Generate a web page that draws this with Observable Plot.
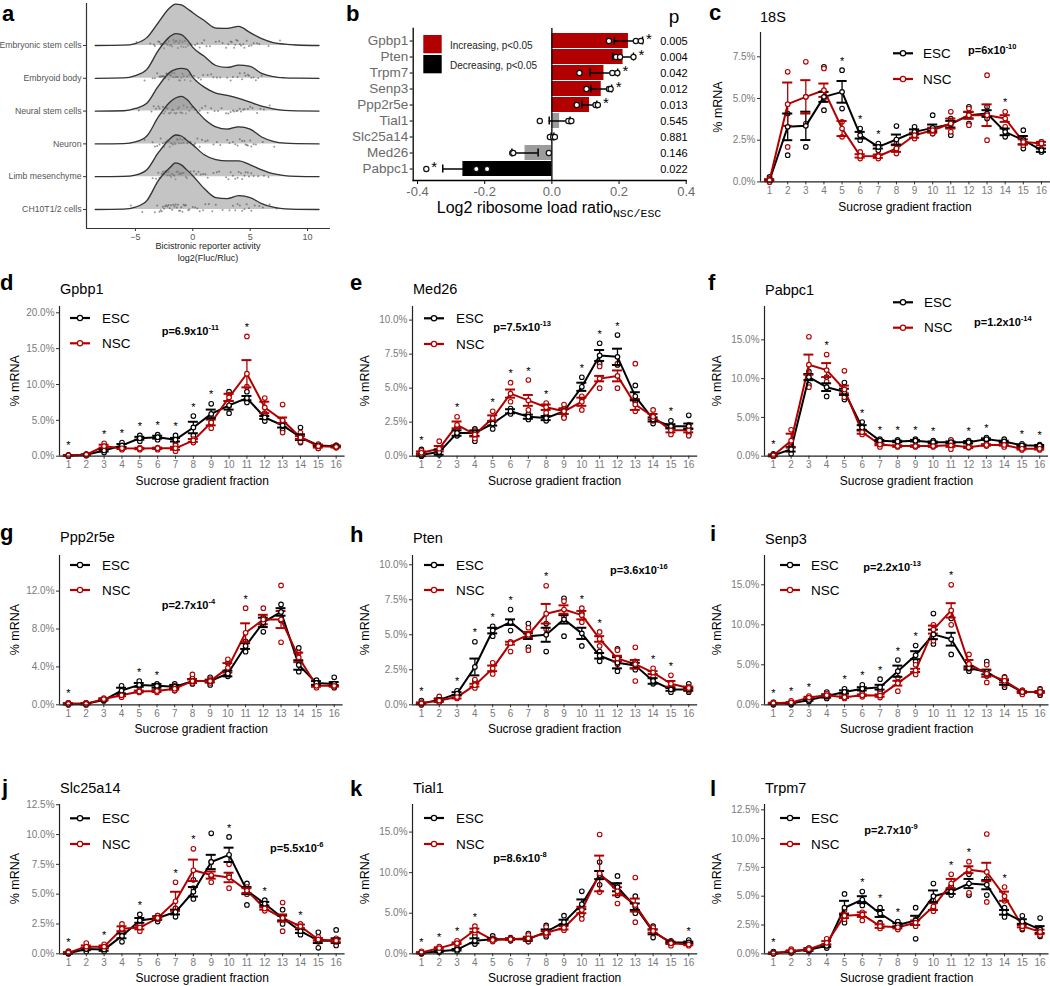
<!DOCTYPE html>
<html><head><meta charset="utf-8">
<script src="https://cdn.jsdelivr.net/npm/d3@7"></script>
<script src="https://cdn.jsdelivr.net/npm/@observablehq/plot@0.6"></script>
<style>
body{margin:0;background:#fff;}
#fig{position:relative;width:1050px;height:986px;overflow:hidden;background:#fff;font-family:"Liberation Sans",Arial,Helvetica,sans-serif;}
</style></head><body><div id="fig"></div>
<script>
// ---------------- DATA ----------------
// Panel a: ridgeline densities of log2(Fluc/Rluc)
const cellNames = ["Embryonic stem cells","Embryoid body","Neural stem cells","Neuron","Limb mesenchyme","CH10T1/2 cells"];
const densX = [-8.5,-6,-5,-4,-3,-2,-1.5,-1,-0.5,0,1,2,3,4,5,6,7,8,9,11];
const dens_ESC    = [0,0.001,0.006,0.024,0.070,0.115,0.126,0.124,0.113,0.100,0.076,0.053,0.052,0.058,0.039,0.021,0.009,0.004,0.0015,0];
const dens_EB     = [0,0.001,0.008,0.027,0.085,0.127,0.136,0.133,0.118,0.094,0.067,0.039,0.033,0.040,0.036,0.015,0.005,0.0015,0.0005,0];
const dens_NSC    = [0,0.001,0.008,0.024,0.076,0.118,0.127,0.130,0.127,0.103,0.073,0.055,0.048,0.039,0.027,0.015,0.007,0.002,0.0005,0];
const dens_Neuron = [0,0.001,0.006,0.024,0.082,0.127,0.140,0.145,0.135,0.115,0.076,0.052,0.045,0.052,0.045,0.021,0.008,0.002,0.0005,0];
const dens_Limb   = [0,0.001,0.005,0.021,0.073,0.115,0.127,0.124,0.110,0.097,0.067,0.052,0.048,0.048,0.036,0.021,0.009,0.003,0.001,0];
const dens_CH10   = [0,0.001,0.007,0.027,0.088,0.127,0.142,0.136,0.120,0.103,0.064,0.036,0.033,0.042,0.036,0.018,0.007,0.002,0.0005,0];
const pts_ESC    = [-4.9,-3.7,-3.4,-3.3,-3.0,-2.9,-2.8,-2.7,-2.6,-2.5,-2.4,-2.3,-2.2,-2.1,-2.0,-1.9,-1.8,-1.7,-1.6,-1.5,-1.4,-1.3,-1.2,-1.1,-1.0,-0.9,-0.8,-0.7,-0.6,-0.4,-0.2,-0.1,0.2,0.4,0.6,0.8,1.0,1.2,1.5,2.0,2.3,2.6,2.9,3.1,3.3,3.4,3.6,3.7,3.8,3.9,4.1,4.2,4.4,4.5,4.7,4.9,5.1,5.3,5.6,5.8,6.6,7.6];
const pts_EB     = [-4.2,-3.5,-3.3,-3.1,-2.9,-2.8,-2.7,-2.6,-2.5,-2.4,-2.3,-2.2,-2.1,-2.0,-1.9,-1.8,-1.7,-1.6,-1.5,-1.4,-1.3,-1.2,-1.1,-1.0,-0.9,-0.8,-0.7,-0.5,-0.3,-0.2,0.1,0.3,0.5,0.7,0.9,1.3,1.6,1.8,2.1,2.4,3.0,3.3,3.5,3.9,4.1,4.3,4.5,4.6,4.8,4.9,5.1,5.3,5.5,5.7,6.0];
const pts_NSC    = [-4.7,-3.6,-3.4,-3.2,-3.0,-2.9,-2.7,-2.6,-2.5,-2.4,-2.3,-2.2,-2.1,-2.0,-1.9,-1.8,-1.7,-1.6,-1.5,-1.4,-1.3,-1.2,-1.1,-1.0,-0.9,-0.8,-0.6,-0.5,-0.3,-0.1,0.0,0.2,0.4,0.6,0.8,1.1,1.3,1.6,1.9,2.2,2.5,2.9,3.1,3.3,3.5,3.6,3.8,3.9,4.1,4.2,4.4,4.5,4.8,5.0,5.2,5.6,5.9,6.2,6.7];
const pts_Neuron = [-4.2,-3.5,-3.3,-3.1,-2.9,-2.8,-2.6,-2.5,-2.4,-2.3,-2.2,-2.1,-2.0,-1.9,-1.8,-1.7,-1.6,-1.5,-1.4,-1.3,-1.2,-1.1,-1.0,-0.9,-0.8,-0.7,-0.5,-0.4,-0.2,0.1,0.2,0.4,0.6,0.8,1.1,1.3,1.8,2.1,2.4,3.0,3.2,3.5,3.7,3.9,4.1,4.3,4.5,4.6,4.7,4.8,5.0,5.1,5.3,5.5,6.1,7.1];
const pts_Limb   = [-3.5,-3.2,-3.0,-2.9,-2.8,-2.7,-2.6,-2.5,-2.4,-2.3,-2.2,-2.1,-2.0,-1.9,-1.8,-1.7,-1.6,-1.5,-1.4,-1.3,-1.2,-1.1,-1.0,-0.9,-0.8,-0.6,-0.5,-0.2,0.1,0.3,0.5,0.7,0.9,1.1,1.3,1.8,2.1,2.3,2.9,3.1,3.3,3.5,3.7,3.9,4.0,4.2,4.3,4.5,4.6,4.8,4.9,5.1,5.3,5.7,6.2,6.6];
const pts_CH10   = [-5.4,-4.4,-3.3,-3.1,-2.9,-2.8,-2.7,-2.6,-2.5,-2.4,-2.3,-2.2,-2.1,-2.0,-1.9,-1.8,-1.7,-1.6,-1.5,-1.4,-1.3,-1.2,-1.1,-1.0,-0.9,-0.8,-0.7,-0.6,-0.4,-0.3,0.0,0.2,0.4,0.6,0.9,1.1,1.4,1.7,2.0,2.6,3.2,3.5,3.7,3.9,4.1,4.3,4.5,4.7,4.9,5.1,5.4,5.8,6.1,6.7,7.3];
const aTicks = [-5,0,5,10];

// Panel b: log2 ribosome load ratio NSC/ESC
const bGenes = ["Gpbp1","Pten","Trpm7","Senp3","Ppp2r5e","Tial1","Slc25a14","Med26","Pabpc1"];
const bMean  = [0.228,0.212,0.155,0.147,0.112,0.023,0.002,-0.080,-0.265];
const bSE    = [0.042,0.031,0.041,0.031,0.022,0.031,0.004,0.039,0.060];
const bReps  = [[0.170,0.250,0.265],[0.191,0.203,0.243],[0.082,0.180,0.195],[0.103,0.170,0.175],[0.074,0.130,0.137],[-0.036,0.049,0.058],[-0.006,0.004,0.009],[-0.118,-0.115,-0.009],[-0.374,-0.225,-0.193]];
const bP     = ["0.005","0.004","0.042","0.012","0.013","0.545","0.881","0.146","0.022"];
const bClass = ["inc","inc","inc","inc","inc","ns","ns","ns","dec"];
const bSig   = [true,true,true,true,true,false,false,false,true];
const bTicks = [-0.4,-0.2,0.0,0.2,0.4];

// Panels c-l: % mRNA per sucrose gradient fraction
const fractions = [1,2,3,4,5,6,7,8,9,10,11,12,13,14,15,16];

const s18_escMean = [0.1,3.3,3.36,5.1,5.4,2.8,2.1,2.54,3.0,3.24,3.46,4.0,4.1,3.0,2.5,1.9];
const s18_nscMean = [0.1,4.66,5.1,5.5,3.2,1.56,1.54,2.0,2.8,3.1,3.5,4.0,4.0,3.8,2.4,2.3];
const s18_escSE   = [0.05,0.8,0.85,0.3,0.65,0.2,0.1,0.3,0.15,0.2,0.2,0.2,0.2,0.2,0.25,0.1];
const s18_nscSE   = [0.05,1.3,1.0,0.4,0.45,0.1,0.1,0.2,0.15,0.15,0.3,0.2,0.65,0.2,0.15,0.1];
const s18_escLo   = [0.0,1.6,2.1,4.3,4.4,2.5,1.9,2.0,2.7,2.9,2.8,3.5,3.8,2.7,2.0,1.8];
const s18_escHi   = [0.3,4.1,5.1,6.9,6.7,3.2,2.3,3.35,3.3,4.0,3.8,4.5,4.5,3.2,3.1,2.4];
const s18_nscLo   = [0.0,2.1,3.5,5.0,2.7,1.4,1.4,1.7,2.6,2.9,3.0,3.4,2.5,3.3,2.2,2.0];
const s18_nscHi   = [0.2,6.6,7.2,6.8,3.6,1.8,1.6,2.3,3.0,3.2,4.2,4.4,6.4,4.2,2.6,2.4];
const s18_stars   = [5,6,7,14];

const gpbp1_escMean = [0.1,0.2,0.8,1.5,2.5,2.65,2.3,4.0,5.9,7.1,8.1,5.4,4.3,2.65,1.5,1.4];
const gpbp1_nscMean = [0.1,0.2,1.4,1.1,1.07,1.1,1.1,2.2,4.7,8.2,11.5,6.8,5.0,2.6,1.4,1.3];
const gpbp1_escSE   = [0.05,0.05,0.15,0.2,0.2,0.2,0.25,0.8,0.6,0.6,0.3,0.2,0.3,0.4,0.1,0.1];
const gpbp1_nscSE   = [0.05,0.05,0.2,0.1,0.1,0.1,0.2,0.2,0.4,0.5,1.9,0.8,0.4,0.2,0.2,0.1];
const gpbp1_escLo   = [0,0.1,0.5,1.0,2.1,2.3,1.7,2.9,4.7,6.0,7.5,4.9,3.6,1.9,1.1,1.2];
const gpbp1_escHi   = [0.2,0.3,1.2,1.9,2.9,3.0,2.9,5.6,7.3,9.0,9.0,5.9,4.9,4.0,1.6,1.5];
const gpbp1_nscLo   = [0,0.1,1.0,0.9,0.9,0.9,0.7,1.9,3.9,7.0,9.7,6.0,3.3,2.0,1.1,1.2];
const gpbp1_nscHi   = [0.1,0.3,1.8,1.2,1.2,1.2,1.5,2.4,5.4,8.6,16.7,8.1,7.2,3.3,1.7,1.5];
const gpbp1_stars   = [1,3,4,5,6,7,8,9,11];

const med26_escMean = [0.1,0.3,1.7,1.7,2.4,3.3,2.9,2.8,3.3,5.1,7.4,7.3,4.4,2.7,2.2,2.2];
const med26_nscMean = [0.25,0.55,2.3,1.6,2.8,4.6,4.1,3.6,3.3,4.0,5.7,5.9,3.8,2.9,1.9,1.9];
const med26_escSE   = [0.1,0.2,0.2,0.2,0.15,0.15,0.15,0.15,0.2,0.3,0.4,0.6,0.3,0.15,0.15,0.2];
const med26_nscSE   = [0.1,0.2,0.25,0.15,0.2,0.3,0.4,0.2,0.2,0.3,0.2,0.4,0.4,0.2,0.15,0.15];
const med26_escLo   = [0,0.1,1.5,1.1,2.0,3.1,2.7,2.6,2.9,4.3,6.8,6.7,4.0,2.4,2.0,1.6];
const med26_escHi   = [0.5,0.4,2.1,2.0,2.7,3.5,3.1,3.0,3.5,5.8,8.3,8.9,5.2,3.0,2.6,3.0];
const med26_nscLo   = [0.1,0.3,1.9,1.3,2.5,4.0,3.4,3.2,2.8,3.4,5.0,5.0,3.3,2.6,1.6,1.5];
const med26_nscHi   = [0.4,1.1,2.9,1.9,3.3,5.4,5.6,3.9,3.8,4.4,6.6,6.8,6.8,3.4,2.1,2.3];
const med26_stars   = [1,3,5,6,7,8,10,11,12,15];

const pabpc1_escMean = [0.1,0.9,10.2,8.9,8.3,3.7,2.0,1.9,2.0,1.8,1.8,1.8,2.2,1.9,1.4,1.35];
const pabpc1_nscMean = [0.1,2.0,11.8,11.1,8.6,3.1,1.5,1.3,1.3,1.3,1.4,1.15,1.45,1.45,0.95,0.95];
const pabpc1_escSE   = [0.1,0.3,0.4,0.5,0.4,0.3,0.1,0.1,0.1,0.1,0.1,0.15,0.1,0.1,0.1,0.1];
const pabpc1_nscSE   = [0.1,0.9,1.3,0.9,0.5,0.2,0.1,0.1,0.1,0.1,0.2,0.1,0.1,0.1,0.1,0.1];
const pabpc1_escLo   = [0,0.3,9.2,7.7,7.3,3.4,1.8,1.7,1.9,1.6,1.6,1.6,2.0,1.7,1.2,1.2];
const pabpc1_escHi   = [0.3,1.5,10.9,10.2,9.5,4.4,2.2,2.1,2.2,2.0,2.0,2.0,2.4,2.2,1.6,1.5];
const pabpc1_nscLo   = [0,1.2,8.9,9.6,7.6,2.8,1.2,1.2,1.2,1.2,0.9,1.1,1.3,1.2,0.8,0.8];
const pabpc1_nscHi   = [0.2,3.4,15.4,13.1,11.0,3.5,1.7,1.4,1.4,1.4,2.1,1.3,1.6,1.6,1.1,1.1];
const pabpc1_stars   = [1,4,6,7,8,9,10,12,13,15,16];

const ppp2r5e_escMean = [0.1,0.1,0.5,1.5,2.1,2.0,1.9,2.5,2.5,3.3,6.2,8.7,9.8,4.2,2.3,2.2];
const ppp2r5e_nscMean = [0.1,0.1,0.6,1.0,1.4,1.45,1.7,2.5,2.5,3.9,7.6,9.0,9.0,5.0,2.0,2.0];
const ppp2r5e_escSE   = [0.05,0.05,0.05,0.3,0.2,0.2,0.2,0.2,0.15,0.3,0.3,0.5,0.4,0.5,0.2,0.2];
const ppp2r5e_nscSE   = [0.05,0.05,0.1,0.1,0.1,0.1,0.1,0.2,0.1,0.5,1.0,0.5,0.9,0.5,0.1,0.1];
const ppp2r5e_escLo   = [0,0,0.4,1.0,1.9,1.8,1.5,2.2,2.1,3.0,5.6,7.7,8.9,3.5,2.1,1.8];
const ppp2r5e_escHi   = [0.2,0.2,0.6,2.0,2.5,2.2,2.2,2.8,2.9,4.4,6.7,9.2,10.6,6.0,2.6,2.9];
const ppp2r5e_nscLo   = [0,0,0.5,0.8,1.3,1.3,1.5,2.3,2.3,3.5,6.5,8.5,6.6,4.5,1.8,1.9];
const ppp2r5e_nscHi   = [0.2,0.2,0.7,1.2,1.5,1.6,2.0,3.2,2.7,4.8,10.2,10.2,12.6,5.5,2.2,2.2];
const ppp2r5e_stars   = [1,5,6,11];

const pten_escMean = [0.1,0.35,0.8,2.7,5.3,5.9,4.9,5.0,6.1,5.1,3.5,3.0,2.8,1.7,1.1,1.1];
const pten_nscMean = [0.1,0.3,0.55,1.4,2.6,4.4,5.0,6.5,6.8,6.4,4.7,3.3,2.9,2.3,1.5,1.2];
const pten_escSE   = [0.05,0.1,0.1,0.6,0.2,0.2,0.2,0.5,0.3,0.4,0.2,0.4,0.2,0.2,0.1,0.1];
const pten_nscSE   = [0.05,0.1,0.1,0.1,0.2,0.1,0.2,0.7,0.3,0.3,0.2,0.2,0.3,0.1,0.2,0.1];
const pten_escLo   = [0,0.2,0.6,1.7,4.9,5.3,4.1,3.8,4.9,4.2,3.1,2.4,2.5,1.5,0.9,0.9];
const pten_escHi   = [0.3,0.5,1.0,4.5,5.6,6.8,5.8,5.8,7.6,6.5,3.8,4.0,3.1,1.9,1.3,1.5];
const pten_nscLo   = [0,0.2,0.45,1.2,2.2,3.8,3.9,5.4,6.3,5.9,4.2,2.9,1.7,2.0,1.1,1.0];
const pten_nscHi   = [0.2,0.6,0.7,1.8,3.0,4.5,5.5,8.5,7.4,6.9,5.2,3.9,4.1,2.6,2.1,1.3];
const pten_stars   = [1,3,4,5,6,8,10,11,14,15];

const senp3_escMean = [0.15,0.15,0.6,1.1,1.6,2.0,2.2,4.2,6.2,8.8,8.2,4.6,4.1,2.8,1.6,1.6];
const senp3_nscMean = [0.2,0.3,0.9,1.2,0.95,1.2,1.15,2.7,4.3,9.4,11.8,5.1,3.9,3.0,1.6,1.6];
const senp3_escSE   = [0.05,0.05,0.1,0.2,0.2,0.2,0.3,0.7,0.5,0.6,0.8,0.2,0.3,0.3,0.1,0.1];
const senp3_nscSE   = [0.05,0.05,0.1,0.1,0.1,0.1,0.15,0.3,0.2,0.5,0.9,0.5,0.4,0.2,0.1,0.1];
const senp3_escLo   = [0,0,0.4,0.8,1.3,1.7,1.7,2.8,5.4,7.6,6.3,4.2,3.6,2.2,1.4,1.2];
const senp3_escHi   = [0.3,0.3,0.9,1.6,2.0,2.5,3.2,5.6,7.4,11.4,10.8,5.0,5.4,3.5,1.8,2.0];
const senp3_nscLo   = [0.1,0.2,0.8,1.0,0.8,1.0,0.9,1.7,3.8,8.0,10.0,4.5,2.8,2.5,1.3,1.4];
const senp3_nscHi   = [0.3,0.5,1.1,1.4,1.1,1.4,1.4,3.4,5.0,10.0,15.0,6.3,5.0,3.4,1.8,1.9];
const senp3_stars   = [1,2,3,5,6,7,8,9,11];

const slc25a14_escMean = [0.05,0.4,0.35,1.5,2.8,3.0,3.5,5.2,7.7,8.3,5.3,4.2,3.0,1.9,1.1,1.1];
const slc25a14_nscMean = [0.1,0.6,0.6,2.1,2.2,3.0,4.4,7.0,6.6,6.4,5.3,3.8,3.0,2.3,1.2,1.1];
const slc25a14_escSE   = [0.05,0.1,0.1,0.2,0.2,0.15,0.2,0.4,0.6,0.6,0.3,0.15,0.2,0.15,0.2,0.2];
const slc25a14_nscSE   = [0.05,0.1,0.1,0.2,0.15,0.1,0.8,0.9,0.3,0.4,0.2,0.1,0.3,0.15,0.1,0.1];
const slc25a14_escLo   = [0,0.2,0.2,1.0,2.3,2.7,3.1,4.6,6.5,6.6,4.1,4.0,2.5,1.6,0.5,0.7];
const slc25a14_escHi   = [0.2,0.6,0.6,2.1,3.3,3.2,3.8,6.2,10.1,9.8,5.9,4.5,3.7,2.2,1.8,2.0];
const slc25a14_nscLo   = [0,0.4,0.4,1.8,1.9,2.9,3.8,5.5,6.0,5.5,5.0,3.6,1.9,2.1,1.0,1.0];
const slc25a14_nscHi   = [0.2,0.9,0.8,2.5,2.5,3.2,6.0,8.8,7.7,7.5,5.6,4.0,4.3,2.5,1.4,1.3];
const slc25a14_stars   = [1,3,5,7,8,10,12,14];

const tial1_escMean = [0.1,0.3,0.5,1.6,1.8,1.8,1.8,2.7,3.9,6.1,9.7,8.2,5.8,2.7,1.4,1.4];
const tial1_nscMean = [0.15,0.7,1.3,2.9,1.7,1.8,1.9,2.6,3.2,5.4,9.9,7.7,6.0,2.8,1.3,1.15];
const tial1_escSE   = [0.05,0.1,0.1,0.3,0.1,0.1,0.2,0.3,0.3,0.6,0.5,0.5,0.4,0.3,0.1,0.1];
const tial1_nscSE   = [0.05,0.1,0.1,0.2,0.1,0.1,0.2,0.2,0.2,0.4,2.2,0.5,0.8,0.2,0.1,0.1];
const tial1_escLo   = [0,0.2,0.3,1.2,1.6,1.6,1.5,2.1,3.3,4.8,8.5,7.2,5.0,2.0,1.3,1.2];
const tial1_escHi   = [0.2,0.5,0.7,2.2,2.2,2.0,2.5,3.5,4.7,7.7,11.3,9.6,7.1,3.4,1.6,1.7];
const tial1_nscLo   = [0,0.5,1.1,2.6,1.5,1.7,1.5,2.3,2.9,4.3,7.6,6.2,3.9,2.5,1.0,1.0];
const tial1_nscHi   = [0.3,0.9,1.6,3.4,1.9,1.9,2.3,3.3,3.6,6.1,14.7,8.5,9.4,3.2,1.5,1.3];
const tial1_stars   = [1,2,3,4,16];

const trpm7_escMean = [0.05,0.2,0.35,0.7,4.0,4.7,3.5,2.5,2.9,5.0,5.4,6.1,6.0,3.6,2.8,2.1];
const trpm7_nscMean = [0.05,0.25,0.4,0.95,3.3,3.4,2.4,2.3,2.7,4.1,6.1,7.3,7.1,5.0,2.4,1.9];
const trpm7_escSE   = [0.05,0.05,0.1,0.1,0.6,0.3,0.3,0.15,0.4,0.5,0.2,0.4,0.4,0.2,0.2,0.3];
const trpm7_nscSE   = [0.05,0.05,0.1,0.15,0.2,0.2,0.15,0.1,0.2,0.3,0.4,0.3,0.8,0.4,0.1,0.2];
const trpm7_escLo   = [0,0.1,0.2,0.5,2.7,4.2,2.7,2.2,1.3,3.9,5.1,5.1,5.1,3.2,2.1,1.5];
const trpm7_escHi   = [0.2,0.3,0.5,1.0,5.2,5.4,4.0,2.8,4.0,6.1,5.9,6.9,6.5,4.0,3.3,3.1];
const trpm7_nscLo   = [0,0.1,0.3,0.7,3.0,2.9,2.2,2.1,2.4,3.7,5.6,5.3,4.5,4.6,2.2,1.6];
const trpm7_nscHi   = [0.1,0.4,0.5,1.3,3.8,3.6,2.6,2.5,3.0,4.6,6.9,8.0,10.4,5.8,2.7,2.2];
const trpm7_stars   = [1,6,7,8,11,12,14];

// ---------------- STYLE / LAYOUT ----------------
const RED = "#b20000";
const FONT = "'Liberation Sans', Arial, Helvetica, sans-serif";
const TICKGRAY = "#7a7a7a";
const fig = document.getElementById("fig");

function put(el, x, y) {
  el.style.position = "absolute";
  el.style.left = x + "px";
  el.style.top = y + "px";
  fig.appendChild(el);
}
// deterministic vertical jitter offset (display only) in [-0.5, 0.5]
function jit(j, i) {
  const s = Math.sin((j + 1) * 12.9898 + (i + 1) * 78.233) * 43758.5453;
  return (s - Math.floor(s)) - 0.5;
}

// ---------------- PANEL a ----------------
(function () {
  const dens = [dens_ESC, dens_EB, dens_NSC, dens_Neuron, dens_Limb, dens_CH10];
  const pts = [pts_ESC, pts_EB, pts_NSC, pts_Neuron, pts_Limb, pts_CH10];
  const xDom = [-9.26, 12];
  const yDom = [-0.058, 0.628];
  const marks = [];
  dens.forEach((arr, i) => {
    const base = (5 - i) * 0.1;
    const data = densX.map((x, j) => ({x, d: arr[j]}));
    marks.push(Plot.areaY(data, {x: "x", y1: () => base, y2: d => base + d.d, fill: "#8a8a8a", fillOpacity: 0.5, curve: "monotone-x"}));
    marks.push(Plot.lineY(data, {x: "x", y: d => base + d.d, stroke: "#333", strokeWidth: 1.3, curve: "monotone-x"}));
    const pd = pts[i].map((v, j) => ({v, j}));
    marks.push(Plot.dot(pd, {x: "v", y: d => base + 0.004 + jit(d.j, i) * 0.026, r: 1.0, fill: "#444", fillOpacity: 0.55}));
  });
  const svg = Plot.plot({
    width: 335, height: 245,
    marginLeft: 86, marginRight: 5, marginTop: 3, marginBottom: 17,
    x: {domain: xDom}, y: {domain: yDom},
    style: {fontFamily: FONT, background: "transparent", overflow: "visible"},
    marks: [
      ...marks,
      Plot.ruleX([xDom[0]], {stroke: "#333", strokeWidth: 1.2}),
      Plot.ruleY([yDom[0]], {stroke: "#333", strokeWidth: 1.2}),
      Plot.axisX({ticks: aTicks, tickSize: 3, tickPadding: 2, fontSize: 9, fill: "#555", stroke: "#333", label: null}),
      Plot.axisY({ticks: [0.5,0.4,0.3,0.2,0.1,0], tickSize: 3, tickPadding: 2, fontSize: 8.7, fill: "#555", stroke: "#333", label: null,
        tickFormat: v => cellNames[Math.round(5 - v * 10)]})
    ]
  });
  put(svg, 0, 0);
})();

// ---------------- PANEL b ----------------
(function () {
  const colorOf = {inc: RED, ns: "#9c9c9c", dec: "#000"};
  const data = bGenes.map((g, i) => ({g, m: bMean[i], se: bSE[i], cls: bClass[i], p: bP[i], sig: bSig[i],
    ext: bMean[i] >= 0 ? d3.max(bReps[i]) : d3.min(bReps[i])}));
  const reps = bGenes.flatMap((g, i) => bReps[i].map(v => ({g, v})));
  const svg = Plot.plot({
    width: 360, height: 200,
    marginLeft: 72.7, marginRight: 14.3, marginTop: 28, marginBottom: 20,
    x: {domain: [-0.413, 0.4]},
    y: {domain: bGenes, paddingInner: 0.08, paddingOuter: 0.2},
    style: {fontFamily: FONT, background: "transparent", overflow: "visible"},
    marks: [
      Plot.barX(data, {x: "m", y: "g", fill: d => colorOf[d.cls]}),
      Plot.ruleX([0], {stroke: "#000", strokeWidth: 1.3}),
      Plot.ruleY(data, {y: "g", x1: d => d.m - d.se, x2: d => d.m + d.se, stroke: "#000", strokeWidth: 1.5}),
      Plot.tickX(data, {x: d => d.m - d.se, y: "g", insetTop: 3.5, insetBottom: 3.5, stroke: "#000", strokeWidth: 1.5}),
      Plot.tickX(data, {x: d => d.m + d.se, y: "g", insetTop: 3.5, insetBottom: 3.5, stroke: "#000", strokeWidth: 1.5}),
      Plot.dot(reps, {x: "v", y: "g", r: 2.6, fill: "white", stroke: "#111", strokeWidth: 1.2}),
      Plot.text(data.filter(d => d.sig), {x: "ext", y: "g", text: () => "*", dx: 8, dy: -2, fontSize: 15, fill: "#000"}),
      Plot.text(data, {y: "g", text: "p", frameAnchor: "right", textAnchor: "end", dx: 1.5, fontSize: 11, fill: "#000"}),
      Plot.frame({anchor: "left", stroke: "#000", strokeWidth: 1.3}),
      Plot.frame({anchor: "bottom", stroke: "#000", strokeWidth: 1.3}),
      Plot.axisX({ticks: bTicks, tickSize: 4, tickPadding: 2, fontSize: 13, fill: "#6a6a6a", stroke: "#000", label: null, tickFormat: v => v.toFixed(1)}),
      Plot.axisY({tickSize: 3, tickPadding: 2, fontSize: 13.5, fill: "#6a6a6a", stroke: "#000", label: null})
    ]
  });
  put(svg, 340, 0);
})();

// ---------------- PANELS c-l ----------------
function linePanel(cfg) {
  const rows = [];
  [["ESC", cfg.escMean, cfg.escSE, cfg.escLo, cfg.escHi], ["NSC", cfg.nscMean, cfg.nscSE, cfg.nscLo, cfg.nscHi]]
    .forEach(([g, m, se, lo, hi]) => fractions.forEach((f, i) => rows.push({f, g, m: m[i], se: se[i], lo: lo[i], hi: hi[i]})));
  const reps = rows.flatMap(r => [{f: r.f, g: r.g, v: r.lo}, {f: r.f, g: r.g, v: r.hi}]);
  const stars = cfg.stars.map(f => {
    const i = f - 1;
    const top = Math.max(cfg.escHi[i], cfg.nscHi[i], cfg.escMean[i] + cfg.escSE[i], cfg.nscMean[i] + cfg.nscSE[i]);
    return {f, v: top + cfg.ytop * 0.06};
  });
  const xDom = [0.5, 16.5];
  const X0 = cfg.yAxisX - 50, Y0 = cfg.axisTop - 6;
  const mr = 6, mb = 20;
  const svg = Plot.plot({
    width: cfg.right - X0 + mr, height: cfg.xAxisY - Y0 + mb,
    marginLeft: cfg.yAxisX - X0, marginRight: mr, marginTop: cfg.axisTop - Y0, marginBottom: mb,
    x: {domain: xDom}, y: {domain: [0, cfg.ytop]},
    color: {domain: ["ESC", "NSC"], range: ["#000", RED]},
    style: {fontFamily: FONT, background: "transparent", overflow: "visible"},
    marks: [
      Plot.axisX({ticks: fractions, tickSize: 3, tickPadding: 2, fontSize: 10, fill: TICKGRAY, stroke: "#333", label: null, tickFormat: d => String(d)}),
      Plot.axisY({ticks: cfg.yticks, tickSize: 3, tickPadding: 2, fontSize: 10, fill: TICKGRAY, stroke: "#333", label: null, tickFormat: v => v.toFixed(1) + "%"}),
      Plot.dot(reps, {x: "f", y: "v", stroke: "g", fill: "white", r: 2.3, strokeWidth: 1.1}),
      Plot.line(rows, {x: "f", y: "m", stroke: "g", z: "g", strokeWidth: 2}),
      Plot.ruleX(rows, {x: "f", y1: d => d.m - d.se, y2: d => d.m + d.se, stroke: "g", strokeWidth: 1.3}),
      Plot.ruleY(rows, {y: d => d.m + d.se, x1: d => d.f - 0.28, x2: d => d.f + 0.28, stroke: "g", strokeWidth: 2}),
      Plot.ruleY(rows, {y: d => d.m - d.se, x1: d => d.f - 0.28, x2: d => d.f + 0.28, stroke: "g", strokeWidth: 2}),
      Plot.dot(rows, {x: "f", y: "m", stroke: "g", fill: "white", r: 2.3, strokeWidth: 1.2}),
      Plot.text(stars, {x: "f", y: "v", text: () => "*", fontSize: 11, fill: "#000"}),
      Plot.ruleX([xDom[0]], {stroke: "#222", strokeWidth: 1.2}),
      Plot.ruleY([0], {stroke: "#222", strokeWidth: 1.2})
    ]
  });
  put(svg, X0, Y0);
}

const panels = [
  {letter: "c", title: "18S", escMean: s18_escMean, nscMean: s18_nscMean, escSE: s18_escSE, nscSE: s18_nscSE, escLo: s18_escLo, escHi: s18_escHi, nscLo: s18_nscLo, nscHi: s18_nscHi, stars: s18_stars,
   yAxisX: 760, right: 1050, axisTop: 32.3, xAxisY: 181.7, ytop: 8.96, yticks: [0,2.5,5,7.5],
   leg: [893, 53.3, 79, 923], pv: [968, 50, "p=6x10", "-10"], tpos: [760, 21.5], lpos: [709, 20], ylabX: 718},
  {letter: "d", title: "Gpbp1", escMean: gpbp1_escMean, nscMean: gpbp1_nscMean, escSE: gpbp1_escSE, nscSE: gpbp1_nscSE, escLo: gpbp1_escLo, escHi: gpbp1_escHi, nscLo: gpbp1_nscLo, nscHi: gpbp1_nscHi, stars: gpbp1_stars,
   yAxisX: 59.4, right: 345, axisTop: 306, xAxisY: 455.7, ytop: 20.88, yticks: [0,5,10,15,20],
   leg: [70, 318, 343.3, 102], pv: [161.7, 331, "p=6.9x10", "-11"], tpos: [60, 294], lpos: [0, 290], ylabX: 15},
  {letter: "e", title: "Med26", escMean: med26_escMean, nscMean: med26_nscMean, escSE: med26_escSE, nscSE: med26_nscSE, escLo: med26_escLo, escHi: med26_escHi, nscLo: med26_nscLo, nscHi: med26_nscHi, stars: med26_stars,
   yAxisX: 412, right: 697.2, axisTop: 306, xAxisY: 455.7, ytop: 11.0, yticks: [0,2.5,5,7.5,10],
   leg: [424, 318.3, 344, 456], pv: [493.3, 326.7, "p=7.5x10", "-13"], tpos: [413, 294], lpos: [350, 290], ylabX: 365},
  {letter: "f", title: "Pabpc1", escMean: pabpc1_escMean, nscMean: pabpc1_nscMean, escSE: pabpc1_escSE, nscSE: pabpc1_nscSE, escLo: pabpc1_escLo, escHi: pabpc1_escHi, nscLo: pabpc1_nscLo, nscHi: pabpc1_nscHi, stars: pabpc1_stars,
   yAxisX: 764.4, right: 1048.5, axisTop: 306, xAxisY: 455.7, ytop: 19.3, yticks: [0,5,10,15],
   leg: [893, 302.3, 327.7, 924], pv: [974, 321.7, "p=1.2x10", "-14"], tpos: [765, 295], lpos: [708, 290], ylabX: 717},
  {letter: "g", title: "Ppp2r5e", escMean: ppp2r5e_escMean, nscMean: ppp2r5e_nscMean, escSE: ppp2r5e_escSE, nscSE: ppp2r5e_nscSE, escLo: ppp2r5e_escLo, escHi: ppp2r5e_escHi, nscLo: ppp2r5e_nscLo, nscHi: ppp2r5e_nscHi, stars: ppp2r5e_stars,
   yAxisX: 59.4, right: 343, axisTop: 555, xAxisY: 704.3, ytop: 15.76, yticks: [0,4,8,12],
   leg: [70, 565, 590, 102], pv: [161.7, 605, "p=2.7x10", "-4"], tpos: [60, 542], lpos: [0, 540], ylabX: 15},
  {letter: "h", title: "Pten", escMean: pten_escMean, nscMean: pten_nscMean, escSE: pten_escSE, nscSE: pten_nscSE, escLo: pten_escLo, escHi: pten_escHi, nscLo: pten_nscLo, nscHi: pten_nscHi, stars: pten_stars,
   yAxisX: 412, right: 697.2, axisTop: 555, xAxisY: 704.3, ytop: 10.66, yticks: [0,2.5,5,7.5,10],
   leg: [424, 565, 590, 456], pv: [610, 570, "p=3.6x10", "-16"], tpos: [413, 543], lpos: [350, 541.7], ylabX: 365},
  {letter: "i", title: "Senp3", escMean: senp3_escMean, nscMean: senp3_nscMean, escSE: senp3_escSE, nscSE: senp3_nscSE, escLo: senp3_escLo, escHi: senp3_escHi, nscLo: senp3_nscLo, nscHi: senp3_nscHi, stars: senp3_stars,
   yAxisX: 764.4, right: 1048.9, axisTop: 555, xAxisY: 704.3, ytop: 18.66, yticks: [0,5,10,15],
   leg: [780, 565, 590, 811], pv: [863.3, 566.7, "p=2.2x10", "-13"], tpos: [765, 544], lpos: [710, 541], ylabX: 717},
  {letter: "j", title: "Slc25a14", escMean: slc25a14_escMean, nscMean: slc25a14_nscMean, escSE: slc25a14_escSE, nscSE: slc25a14_nscSE, escLo: slc25a14_escLo, escHi: slc25a14_escHi, nscLo: slc25a14_nscLo, nscHi: slc25a14_nscHi, stars: slc25a14_stars,
   yAxisX: 59.4, right: 345, axisTop: 804, xAxisY: 953.3, ytop: 12.52, yticks: [0,2.5,5,7.5,10,12.5],
   leg: [70, 818.3, 844, 102], pv: [270, 848.3, "p=5.5x10", "-6"], tpos: [60, 793], lpos: [2, 795], ylabX: 15},
  {letter: "k", title: "Tial1", escMean: tial1_escMean, nscMean: tial1_nscMean, escSE: tial1_escSE, nscSE: tial1_nscSE, escLo: tial1_escLo, escHi: tial1_escHi, nscLo: tial1_nscLo, nscHi: tial1_nscHi, stars: tial1_stars,
   yAxisX: 412, right: 697.2, axisTop: 804, xAxisY: 953.3, ytop: 18.4, yticks: [0,5,10,15],
   leg: [424, 818, 844, 456], pv: [493.3, 858.3, "p=8.6x10", "-8"], tpos: [413, 793], lpos: [350, 796], ylabX: 365},
  {letter: "l", title: "Trpm7", escMean: trpm7_escMean, nscMean: trpm7_nscMean, escSE: trpm7_escSE, nscSE: trpm7_nscSE, escLo: trpm7_escLo, escHi: trpm7_escHi, nscLo: trpm7_nscLo, nscHi: trpm7_nscHi, stars: trpm7_stars,
   yAxisX: 764.4, right: 1048.9, axisTop: 804, xAxisY: 953.3, ytop: 12.96, yticks: [0,2.5,5,7.5,10,12.5],
   leg: [780, 818, 844, 811], pv: [864.3, 830, "p=2.7x10", "-9"], tpos: [765, 793], lpos: [710, 796], ylabX: 717}
];
panels.forEach(linePanel);

// ---------------- OVERLAY TEXT / LEGENDS ----------------
const ov = d3.select(fig).append("svg")
  .attr("width", 1050).attr("height", 986)
  .style("position", "absolute").style("left", "0px").style("top", "0px")
  .style("pointer-events", "none").style("font-family", FONT);

function txt(x, y, s, o = {}) {
  const t = ov.append("text").attr("x", x).attr("y", y).text(s)
    .attr("font-size", o.size || 12).attr("fill", o.fill || "#000")
    .attr("font-weight", o.weight || "normal")
    .attr("text-anchor", o.anchor || "start");
  if (o.baseline) t.attr("dominant-baseline", o.baseline);
  if (o.rotate) t.attr("transform", `rotate(${o.rotate},${x},${y})`);
  return t;
}

// Panel letters a, b
txt(2, 20.5, "a", {size: 22, weight: "bold"});
txt(346, 20.5, "b", {size: 22, weight: "bold"});

// Panel a x title
txt(208, 249, "Bicistronic reporter activity", {size: 9, anchor: "middle", fill: "#222"});
txt(208, 261, "log2(Fluc/Rluc)", {size: 9, anchor: "middle", fill: "#222"});

// Panel b legend, header, x title
ov.append("rect").attr("x", 423.3).attr("y", 35).attr("width", 18.4).attr("height", 18.3).attr("fill", RED);
ov.append("rect").attr("x", 423.3).attr("y", 55).attr("width", 18.4).attr("height", 18.3).attr("fill", "#000");
txt(450, 45, "Increasing, p<0.05", {size: 10, baseline: "central", fill: "#222"});
txt(450, 65.5, "Decreasing, p<0.05", {size: 10, baseline: "central", fill: "#222"});
txt(674, 23, "p", {size: 19, anchor: "middle"});
{
  const t = txt(549, 213, "Log2 ribosome load ratio", {size: 16, anchor: "middle"});
  t.append("tspan").attr("font-size", 11.5).attr("dy", 4).attr("font-family", "'Liberation Mono', 'DejaVu Sans Mono', monospace").text("NSC/ESC");
}

// Line panel annotations
panels.forEach(p => {
  txt(p.lpos[0], p.lpos[1], p.letter, {size: 22, weight: "bold"});
  txt(p.tpos[0], p.tpos[1], p.title, {size: 14.5});
  const cy = (p.axisTop + p.xAxisY) / 2;
  txt(p.ylabX, cy, "% mRNA", {size: 12.5, anchor: "middle", baseline: "central", rotate: -90});
  txt((p.yAxisX + p.right) / 2, p.xAxisY + 25, "Sucrose gradient fraction", {size: 12, anchor: "middle", baseline: "central"});
  [["ESC", "#000", p.leg[1]], ["NSC", RED, p.leg[2]]].forEach(([lab, col, y]) => {
    ov.append("line").attr("x1", p.leg[0]).attr("x2", p.leg[0] + 20).attr("y1", y).attr("y2", y).attr("stroke", col).attr("stroke-width", 2.2);
    ov.append("circle").attr("cx", p.leg[0] + 10).attr("cy", y).attr("r", 2.6).attr("fill", "white").attr("stroke", col).attr("stroke-width", 1.2);
    txt(p.leg[3], y, lab, {size: 13.5, baseline: "central"});
  });
  const t = txt(p.pv[0], p.pv[1], p.pv[2], {size: 11, weight: "bold", baseline: "central"});
  t.append("tspan").attr("font-size", 7.5).attr("dy", -4).text(p.pv[3]);
});
</script></body></html>
